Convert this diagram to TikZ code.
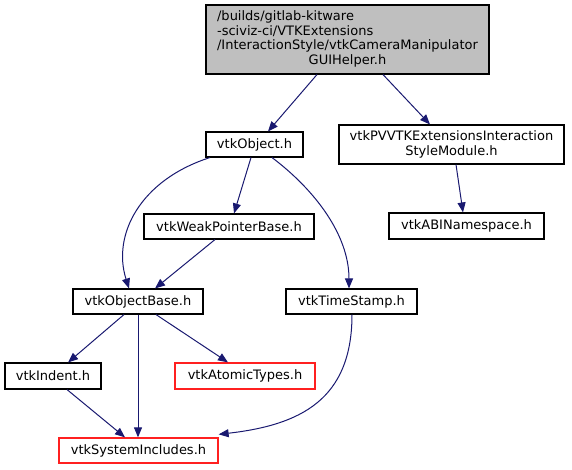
\documentclass[tikz,border=0pt]{standalone}
\usepackage{fontspec}
\setmainfont{DejaVu Sans}
\usetikzlibrary{arrows.meta}
\definecolor{edgec}{HTML}{191970}
\definecolor{redc}{HTML}{FF2020}
\definecolor{grayc}{HTML}{BFBFBF}
\begin{document}
\begin{tikzpicture}[x=1pt,y=-1pt,
  box/.style={draw=black,line width=1.1pt,fill=white,inner sep=0pt,font=\fontsize{13}{14.5}\selectfont,anchor=center},
  redbox/.style={box,draw=redc,line width=1.3pt},
  edge/.style={draw=edgec,line width=1pt,-{Triangle[length=10pt,width=8pt]}}]
\useasboundingbox (0,0) rectangle (572,469);
\node[box,fill=grayc,minimum width=283pt,minimum height=69pt] (top) at (347.5,39.5)
 {\begin{tabular}{@{}l@{}}/builds/gitlab-kitware\\-sciviz-ci/VTKExtensions\\/InteractionStyle/vtkCameraManipulator\\\multicolumn{1}{@{}c@{}}{GUIHelper.h}\end{tabular}};
\node[box,minimum width=97pt,minimum height=25pt] (obj) at (254.5,144.5) {vtkObject.h};
\node[box,minimum width=225pt,minimum height=39pt,align=center] (pv) at (451.5,144.5) {vtkPVVTKExtensionsInteraction\\StyleModule.h};
\node[box,minimum width=155pt,minimum height=26pt] (abi) at (466.5,226) {vtkABINamespace.h};
\node[box,minimum width=170pt,minimum height=25pt] (weak) at (229,226.5) {vtkWeakPointerBase.h};
\node[box,minimum width=130pt,minimum height=25pt] (ob) at (138,301.5) {vtkObjectBase.h};
\node[box,minimum width=131pt,minimum height=25pt] (ts) at (351.5,301.5) {vtkTimeStamp.h};
\node[box,minimum width=96pt,minimum height=26pt] (ind) at (53,376) {vtkIndent.h};
\node[redbox,minimum width=140pt,minimum height=26pt] (at) at (245,376) {vtkAtomicTypes.h};
\node[redbox,minimum width=159pt,minimum height=25pt] (si) at (138.5,450.5) {vtkSystemIncludes.h};

\draw[edge] ([xshift=-30.5pt]top.south) -- ([xshift=13.5pt]obj.north);
\draw[edge] ([xshift=35.5pt]top.south) -- ([xshift=-21.5pt]pv.north);
\draw[edge] ([xshift=4.5pt]pv.south) -- ([xshift=-3.5pt]abi.north);
\draw[edge] ([xshift=-3.5pt]obj.south) -- ([xshift=5pt]weak.north);
\draw[edge] ([xshift=-44.5pt]obj.south) .. controls (140,180) and (112,235) .. ([xshift=-9pt]ob.north);
\draw[edge] ([xshift=17.5pt]obj.south) .. controls (315,190) and (349,235) .. ([xshift=-2.5pt]ts.north);
\draw[edge] ([xshift=-14pt]weak.south) -- ([xshift=17pt]ob.north);
\draw[edge] ([xshift=-14pt]ob.south) -- ([xshift=15pt]ind.north);
\draw[edge] (ob.south) -- ([xshift=-0.5pt]si.north);
\draw[edge] ([xshift=18pt]ob.south) -- ([xshift=-17pt]at.north);
\draw[edge] ([xshift=14pt]ind.south) -- ([xshift=-13.5pt]si.north);
\draw[edge] ([xshift=0.5pt]ts.south) .. controls (352,400) and (300,425) .. ([yshift=3pt]si.north east);
\end{tikzpicture}
\end{document}
